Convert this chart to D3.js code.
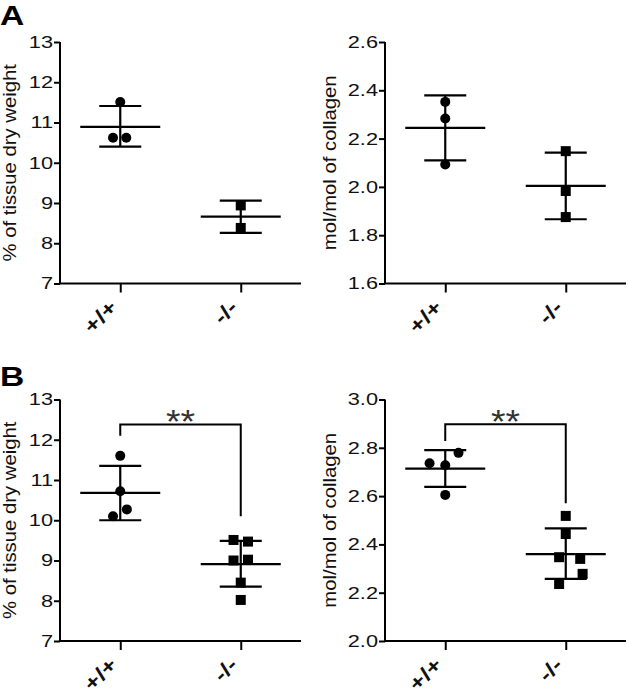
<!DOCTYPE html>
<html><head><meta charset="utf-8">
<script src="https://cdn.jsdelivr.net/npm/d3@7"></script>
<style>body{margin:0;background:#fff}svg{display:block}</style>
</head><body>
<svg id="c" width="628" height="694"></svg>
<script>
const categories = ["+/+", "-/-"];
const yLabels = ["% of tissue dry weight", "mol/mol of collagen", "% of tissue dry weight", "mol/mol of collagen"];
const yDomains = [[7, 13], [1.6, 2.6], [7, 13], [2.0, 3.0]];
const yTicks = [[7,8,9,10,11,12,13],[1.6,1.8,2.0,2.2,2.4,2.6],[7,8,9,10,11,12,13],[2.0,2.2,2.4,2.6,2.8,3.0]];
const tickFormats = ["d", ".1f", "d", ".1f"];
// points: [group index, x jitter (fraction of group step), value]
const pointsA1 = [[0,0,11.51],[0,-0.06,10.62],[0,0.05,10.62],[1,0,8.94],[1,0,8.38]];
const pointsA2 = [[0,0,2.352],[0,0,2.283],[0,0,2.093],[1,0,2.148],[1,0,1.983],[1,0,1.875]];
const pointsB1 = [[0,0,11.60],[0,0,10.72],[0,-0.06,10.10],[0,0.055,10.27],[1,-0.06,9.51],[1,0.06,9.47],[1,-0.06,9.00],[1,0.06,9.02],[1,0,8.45],[1,0,8.02]];
const pointsB2 = [[0,-0.13,2.736],[0,0,2.728],[0,0.11,2.779],[0,0,2.605],[1,0,2.518],[1,0,2.443],[1,-0.055,2.347],[1,0.12,2.340],[1,0.14,2.278],[1,-0.055,2.236]];
const means = [[10.89, 8.66],[2.244, 2.004],[10.68, 8.91],[2.714, 2.360]];
const uppers = [[11.41, 9.06],[2.379, 2.142],[11.35, 9.49],[2.790, 2.466]];
const lowers = [[10.40, 8.26],[2.110, 1.866],[10.00, 8.35],[2.638, 2.257]];
// significance: [bar level, left end, right end]
const sigB1 = [12.38, 12.10, 10.10];
const sigB2 = [2.897, 2.828, 2.570];
const sigText = "**";
const panelLetters = ["A", "B"];

const allPoints = [pointsA1, pointsA2, pointsB1, pointsB2];
const sigs = [null, null, sigB1, sigB2];
const origins = [[60, 42], [385, 42], [60, 399.5], [385, 399.5]];
const labelOffsets = [-44.5, -49.5, -44.5, -49.5];
const W = 241, H = 241.5;
const font = "'Liberation Sans', Arial, sans-serif";
const SX = 1.28; // horizontal glyph stretch of the original figure

const svg = d3.select("#c");

allPoints.forEach((pts, i) => {
  const [ox, oy] = origins[i];
  const g = svg.append("g").attr("transform", `translate(${ox},${oy})`);
  const x = d3.scalePoint().domain(categories).range([0, W]).padding(0.5);
  const y = d3.scaleLinear().domain(yDomains[i]).range([H, 0]);
  const step = x.step();

  const ya = g.append("g").call(d3.axisLeft(y).tickValues(yTicks[i]).tickFormat(d3.format(tickFormats[i])).tickSize(6).tickPadding(1));
  const xa = g.append("g").attr("transform", `translate(0,${H})`).call(d3.axisBottom(x).tickSize(9).tickFormat(""));
  [ya, xa].forEach(a => {
    a.select(".domain").attr("stroke", "#000").attr("stroke-width", 2);
    a.selectAll(".tick line").attr("stroke", "#000").attr("stroke-width", 2);
  });
  xa.select(".domain").attr("d", `M0,0H${W}`);
  ya.select(".domain").attr("d", `M0,0V${H}`);
  ya.selectAll(".tick text").attr("font-family", font).attr("font-size", 17).attr("fill", "#111")
    .attr("x", 0).attr("transform", `translate(-7,0) scale(${SX},1)`);

  // x category labels rotated
  g.selectAll(".clab").data(categories).enter().append("text")
    .attr("transform", d => `translate(${x(d) - 2},${H + 25}) rotate(-45) scale(${SX},1)`)
    .attr("text-anchor", "end").attr("font-family", font).attr("font-size", 20)
    .attr("font-weight", "bold").attr("fill", "#111").text(d => d);

  // y axis label
  g.append("text").attr("transform", `translate(${labelOffsets[i]},${H / 2}) rotate(-90) scale(1.16,1)`)
    .attr("text-anchor", "middle").attr("font-family", font).attr("font-size", 17.5)
    .attr("fill", "#111").text(yLabels[i]);

  // points
  pts.forEach(p => {
    const cx = x(categories[p[0]]) + p[1] * step;
    const cy = y(p[2]);
    if (p[0] === 0) g.append("circle").attr("cx", cx).attr("cy", cy).attr("r", 5).attr("fill", "#000");
    else g.append("rect").attr("x", cx - 5).attr("y", cy - 5).attr("width", 10).attr("height", 10).attr("fill", "#000");
  });

  // mean and error bars
  categories.forEach((c, k) => {
    const cx = x(c);
    const ln = (x1, y1, x2, y2) => g.append("line").attr("x1", x1).attr("y1", y1).attr("x2", x2).attr("y2", y2).attr("stroke", "#000").attr("stroke-width", 2.2);
    ln(cx, y(uppers[i][k]), cx, y(lowers[i][k]));
    ln(cx - 21, y(uppers[i][k]), cx + 21, y(uppers[i][k]));
    ln(cx - 21, y(lowers[i][k]), cx + 21, y(lowers[i][k]));
    ln(cx - 40, y(means[i][k]), cx + 40, y(means[i][k]));
  });

  const s = sigs[i];
  if (s) {
    const x0 = x(categories[0]), x1 = x(categories[1]);
    g.append("path").attr("d", `M${x0},${y(s[1])}V${y(s[0])}H${x1}V${y(s[2])}`)
      .attr("fill", "none").attr("stroke", "#000").attr("stroke-width", 2);
    g.append("text").attr("transform", `translate(${(x0 + x1) / 2},${y(s[0]) + 9}) scale(1.1,1)`).attr("text-anchor", "middle")
      .attr("font-family", font).attr("font-size", 34).attr("fill", "#333").text(sigText);
  }
});

panelLetters.forEach((L, k) => {
  svg.append("text").attr("transform", `translate(0,${k === 0 ? 25 : 386}) scale(1.2,1)`).attr("font-family", font)
    .attr("font-size", 28).attr("font-weight", "bold").attr("fill", "#000").text(L);
});
</script>
</body></html>
